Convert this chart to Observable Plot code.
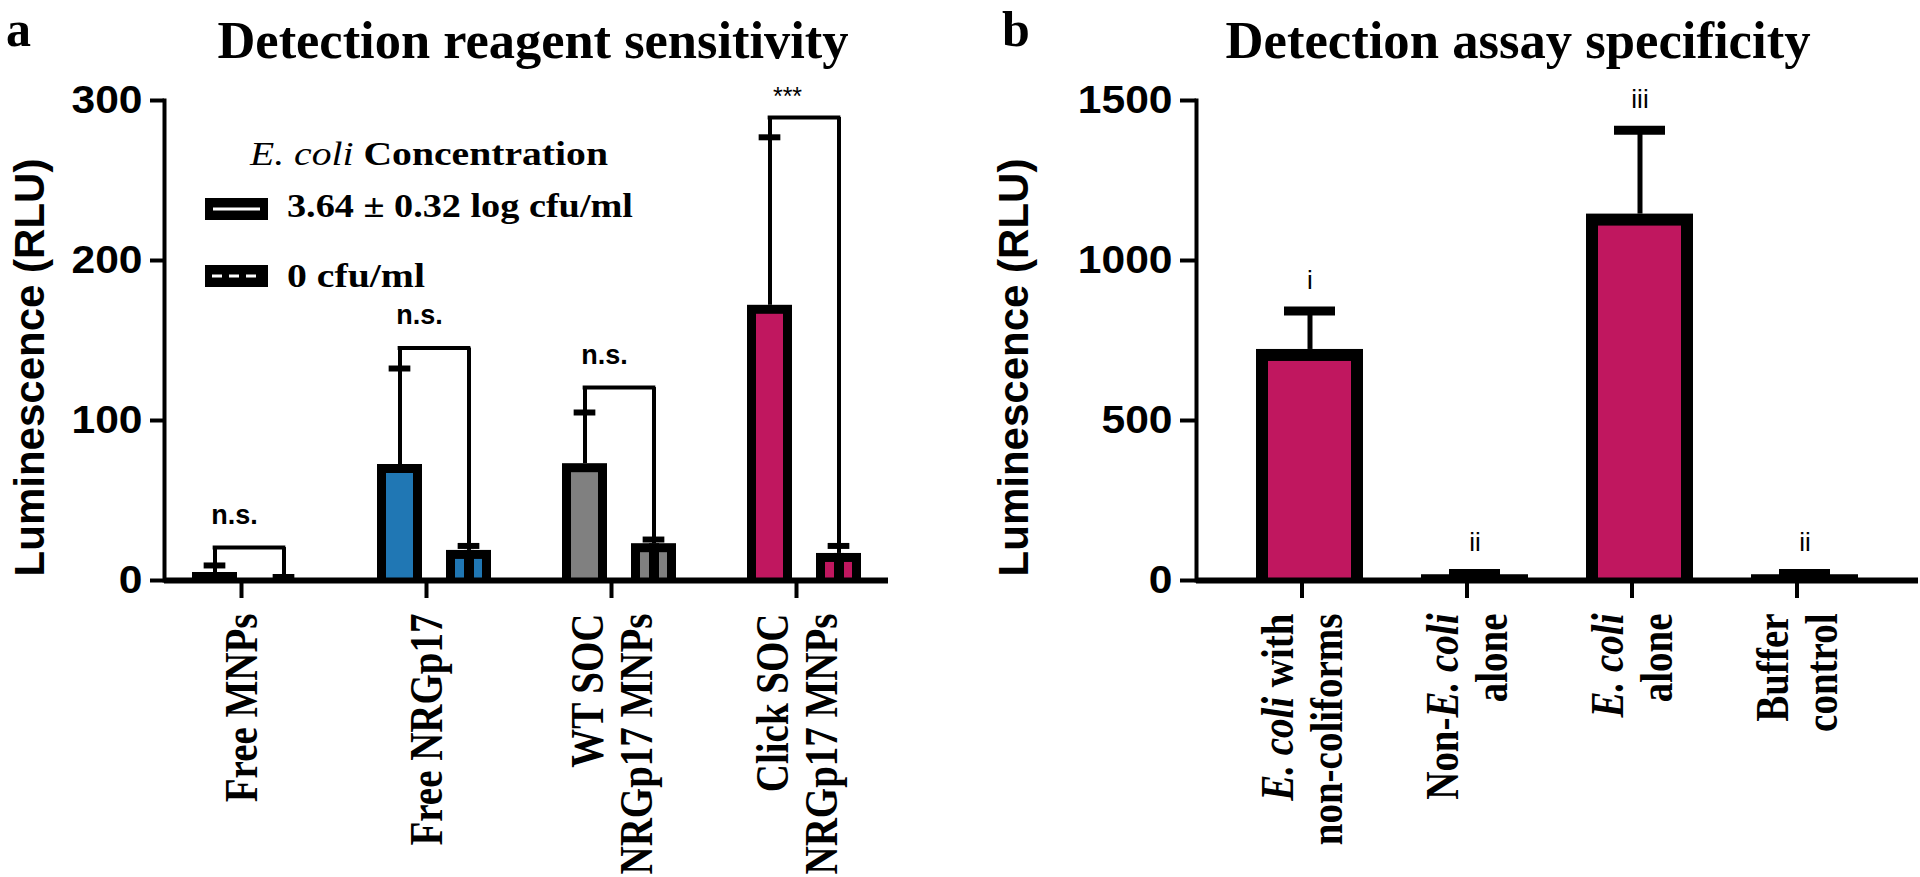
<!DOCTYPE html>
<html><head><meta charset="utf-8">
<script src="https://cdn.jsdelivr.net/npm/d3@7"></script>
<script src="https://cdn.jsdelivr.net/npm/@observablehq/plot@0.6"></script>
<style>
body{margin:0;background:#fff;}
#wrap{position:relative;width:1920px;height:877px;overflow:hidden;background:#fff;}
#wrap > svg{position:absolute;top:0;}
</style></head><body><div id="wrap"></div>
<script>
// ---------- Panel a: Detection reagent sensitivity ----------
const groupsA = ["Free MNPs", "Free NRGp17", "WT SOC\nNRGp17 MNPs", "Click SOC\nNRGp17 MNPs"];
const seriesA = ["3.64 ± 0.32 log cfu/ml", "0 cfu/ml"];
const posMeanA = [5, 72.5, 73, 172];        // 3.64 log cfu/ml
const posErrA  = [9.4, 132.5, 105, 277];    // top of error bar
const negMeanA = [0.5, 18.8, 23, 16.9];     // 0 cfu/ml
const negErrA  = [2.2, 21.6, 25.6, 21.6];
const bracketA = [20.6, 145.3, 120.6, 289.4];
const sigA     = ["n.s.", "n.s.", "n.s.", "***"];
const yTicksA  = [0, 100, 200, 300];

// ---------- Panel b: Detection assay specificity ----------
const groupsB = ["E. coli with\nnon-coliforms", "Non-E. coli\nalone", "E. coli\nalone", "Buffer\ncontrol"];
const meanB   = [722, 18, 1145, 18];
const errB    = [842, 22, 1407, 22];
const letterB = ["i", "ii", "iii", "ii"];
const yTicksB = [0, 500, 1000, 1500];

const PINK = "#c0175f", BLUE = "#2077b4", GREY = "#808080";
const SANS = "Liberation Sans, Arial, sans-serif";
const SERIF = "Liberation Serif, Times New Roman, serif";
const YLABEL = "Luminescence (RLU)";

const dataA = groupsA.map((g, i) => ({group: g, pos: posMeanA[i], posErr: posErrA[i], neg: negMeanA[i], negErr: negErrA[i], bracket: bracketA[i], sig: sigA[i]}));
const dataB = groupsB.map((g, i) => ({group: g, mean: meanB[i], err: errB[i], letter: letterB[i]}));

const wrap = document.getElementById("wrap");
const half = 74.15, off = 34.5;
const xAxisOpts = {tickSize: 18, tickPadding: 15, tickRotate: -90, strokeWidth: 4, fontSize: 39, fontWeight: "bold", fontFamily: SERIF, lineHeight: 1.065, label: null, dx: -8};

const plotA = Plot.plot({
  width: 960, height: 877,
  marginLeft: 164, marginRight: 72, marginTop: 100, marginBottom: 297,
  x: {domain: groupsA, paddingInner: 0.2, paddingOuter: 0.053},
  y: {domain: [0, 300]},
  color: {domain: groupsA, range: ["#ffffff", BLUE, GREY, PINK]},
  style: {fontFamily: SANS, background: "transparent", overflow: "visible", color: "black"},
  marks: [
    Plot.barY(dataA, {x: "group", y: "pos", fill: "black", insetLeft: 17, insetRight: 86}),
    Plot.barY(dataA, {x: "group", y: "pos", fill: "group", insetLeft: 26, insetRight: 95, insetTop: 9}),
    Plot.barY(dataA, {x: "group", y: "neg", fill: "black", insetLeft: 86, insetRight: 17}),
    Plot.barY(dataA, {x: "group", y: "neg", fill: "group", insetLeft: 95, insetRight: 26, insetTop: 9}),
    Plot.ruleX(dataA, {x: "group", y1: 0, y2: "neg", dx: off, stroke: "black", strokeWidth: 10}),
    Plot.ruleX(dataA, {x: "group", y1: "pos", y2: "posErr", dx: -off, stroke: "black", strokeWidth: 4}),
    Plot.ruleX(dataA, {x: "group", y1: "neg", y2: "negErr", dx: off, stroke: "black", strokeWidth: 4}),
    Plot.tickY(dataA, {x: "group", y: "posErr", insetLeft: half - off - 11, insetRight: half + off - 11, stroke: "black", strokeWidth: 6}),
    Plot.tickY(dataA, {x: "group", y: "negErr", insetLeft: half + off - 11, insetRight: half - off - 11, stroke: "black", strokeWidth: 6}),
    // significance brackets
    Plot.ruleX(dataA, {x: "group", y1: "posErr", y2: "bracket", dx: -off, stroke: "black", strokeWidth: 4}),
    Plot.ruleX(dataA, {x: "group", y1: "negErr", y2: "bracket", dx: off, stroke: "black", strokeWidth: 4}),
    Plot.tickY(dataA, {x: "group", y: "bracket", insetLeft: half - off - 2, insetRight: half - off - 2, stroke: "black", strokeWidth: 4}),
    Plot.text(dataA.filter(d => d.sig === "n.s."), {x: "group", y: "bracket", text: "sig", dx: -15, dy: -24, lineAnchor: "bottom", fontSize: 27, fontWeight: "bold", fill: "black"}),
    Plot.text(dataA.filter(d => d.sig !== "n.s."), {x: "group", y: "bracket", text: "sig", dx: -17, dy: -12, lineAnchor: "bottom", fontSize: 25, fill: "black"}),
    // axes
    Plot.ruleY([0], {stroke: "black", strokeWidth: 6}),
    Plot.frame({anchor: "left", stroke: "black", strokeWidth: 4}),
    Plot.axisY({ticks: yTicksA, tickFormat: d => String(d), tickSize: 14, tickPadding: 8, strokeWidth: 4, fontSize: 38, fontWeight: "bold", label: null}),
    Plot.axisX(xAxisOpts),
    Plot.text([YLABEL], {frameAnchor: "left", textAnchor: "middle", rotate: -90, dx: -121, dy: 27, lineAnchor: "bottom", fontSize: 42, fontWeight: "bold"})
  ]
});
plotA.style.left = "0px";
wrap.appendChild(plotA);

const plotB = Plot.plot({
  width: 960, height: 877,
  marginLeft: 236, marginRight: 2, marginTop: 100, marginBottom: 297,
  x: {domain: groupsB, paddingInner: 0.35, paddingOuter: 0.35},
  y: {domain: [0, 1500]},
  style: {fontFamily: SANS, background: "transparent", overflow: "visible", color: "black"},
  marks: [
    Plot.barY(dataB, {x: "group", y: "mean", fill: "black"}),
    Plot.barY(dataB, {x: "group", y: "mean", fill: PINK, insetLeft: 12, insetRight: 12, insetTop: 12}),
    Plot.ruleX(dataB, {x: "group", y1: "mean", y2: "err", stroke: "black", strokeWidth: 5}),
    Plot.tickY(dataB, {x: "group", y: "err", insetLeft: 28, insetRight: 28, stroke: "black", strokeWidth: 9}),
    Plot.text(dataB, {x: "group", y: "err", text: "letter", dy: -22, lineAnchor: "bottom", fontSize: 26, fill: "black"}),
    Plot.ruleY([0], {stroke: "black", strokeWidth: 6}),
    Plot.frame({anchor: "left", stroke: "black", strokeWidth: 4}),
    Plot.axisY({ticks: yTicksB, tickFormat: d => String(d), tickSize: 16, tickPadding: 8, strokeWidth: 4, fontSize: 38, fontWeight: "bold", label: null}),
    Plot.axisX(xAxisOpts),
    Plot.text([YLABEL], {frameAnchor: "left", textAnchor: "middle", rotate: -90, dx: -169, dy: 27, lineAnchor: "bottom", fontSize: 42, fontWeight: "bold"})
  ]
});
plotB.style.left = "960px";
wrap.appendChild(plotB);

// widen glyphs like the reference
for (const p of [plotA, plotB]) {
  d3.select(p).selectAll('g[aria-label="y-axis tick label"] text').each(function () {
    this.setAttribute("textLength", this.getComputedTextLength() * 1.12);
    this.setAttribute("lengthAdjust", "spacingAndGlyphs");
  });
  d3.select(p).selectAll('g[aria-label="x-axis tick label"] text').each(function () {
    const tr = this.getAttribute("transform") || "";
    this.setAttribute("transform", tr + " scale(1,1.18)");
  });
}
// italic "E. coli" inside tick labels
d3.select(plotB).selectAll('g[aria-label="x-axis tick label"] tspan, g[aria-label="x-axis tick label"] text').each(function () {
  if (this.children.length) return;
  const t = this.textContent, k = t.indexOf("E. coli");
  if (k < 0) return;
  const el = d3.select(this);
  el.text(null);
  if (k > 0) el.append("tspan").text(t.slice(0, k));
  el.append("tspan").attr("font-style", "italic").text("E. coli");
  if (k + 7 < t.length) el.append("tspan").text(t.slice(k + 7));
});

// ---------- titles, panel letters, legend ----------
const ov = d3.select(wrap).append("svg").attr("width", 1920).attr("height", 877)
  .style("left", "0px").style("pointer-events", "none");
const T = (x, y, txt, size, opts = {}) => {
  const t = ov.append("text").attr("x", x).attr("y", y).attr("font-family", SERIF)
    .attr("font-weight", opts.weight || "bold").attr("font-size", size).attr("text-anchor", opts.anchor || "start").text(txt);
  if (opts.len) t.attr("textLength", opts.len).attr("lengthAdjust", "spacingAndGlyphs");
  return t;
};
T(6, 46, "a", 50);
T(1002, 46, "b", 50);
T(533, 58, "Detection reagent sensitivity", 52, {anchor: "middle", len: 631});
T(1518, 58, "Detection assay specificity", 52, {anchor: "middle", len: 585});

const lt = ov.append("text").attr("x", 250).attr("y", 165).attr("font-family", SERIF).attr("font-size", 33)
  .attr("textLength", 358).attr("lengthAdjust", "spacingAndGlyphs");
lt.append("tspan").attr("font-style", "italic").text("E. coli");
lt.append("tspan").attr("font-weight", "bold").text(" Concentration");
T(287, 217, seriesA[0], 33, {len: 346});
T(287, 287, seriesA[1], 33, {len: 138});
ov.append("rect").attr("x", 205).attr("y", 198).attr("width", 63).attr("height", 22).attr("fill", "black");
ov.append("line").attr("x1", 213).attr("x2", 260).attr("y1", 209).attr("y2", 209).attr("stroke", "white").attr("stroke-width", 3);
ov.append("rect").attr("x", 205).attr("y", 265).attr("width", 63).attr("height", 22).attr("fill", "black");
ov.append("line").attr("x1", 212).attr("x2", 262).attr("y1", 276).attr("y2", 276).attr("stroke", "white").attr("stroke-width", 3).attr("stroke-dasharray", "10 7");
</script></body></html>
